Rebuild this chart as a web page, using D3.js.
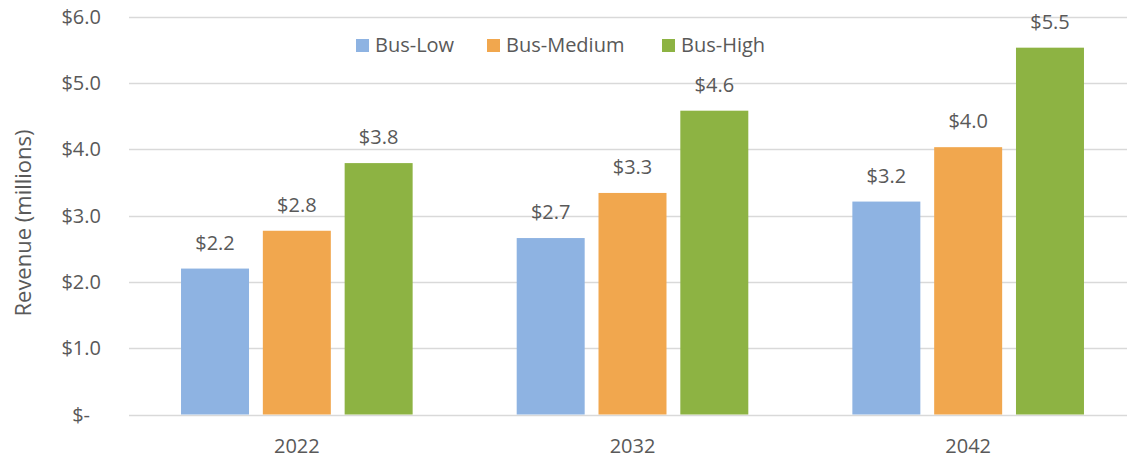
<!DOCTYPE html>
<html>
<head>
<meta charset="utf-8">
<script src="https://cdn.jsdelivr.net/npm/d3@7"></script>
<style>
  body { margin: 0; background: #fff; }
  text { font-family: "Open Sans", "Noto Sans", sans-serif; fill: #595959; }
</style>
</head>
<body>
<script>
var years = ['2022', '2032', '2042'];
var series = ['Bus-Low', 'Bus-Medium', 'Bus-High'];
var busLow = [2.20, 2.66, 3.21];
var busMedium = [2.77, 3.34, 4.03];
var busHigh = [3.79, 4.58, 5.53];
var yTicks = [0, 1, 2, 3, 4, 5, 6];

var colours = ['#8eb3e2', '#f1a74e', '#8db343'];
var values = [busLow, busMedium, busHigh];

var W = 1127, H = 459;
var FS = 20;
var svg = d3.select('body').append('svg')
  .attr('width', W).attr('height', H);

var y = d3.scaleLinear().domain([0, 6]).range([414.5, 16.5]);
var x0 = d3.scaleBand().domain(years).range([129, 1136])
  .paddingInner(0.31).paddingOuter(0.155);
var x1 = d3.scaleBand().domain(series).range([0, x0.bandwidth()])
  .paddingInner(0.169);

// gridlines
svg.append('g').selectAll('line').data(yTicks).enter().append('line')
  .attr('x1', 129).attr('x2', 1136)
  .attr('y1', function(d) { return Math.round(y(d)) + 0.5; })
  .attr('y2', function(d) { return Math.round(y(d)) + 0.5; })
  .style('stroke', '#d9d9d9').style('stroke-width', 1.4);

// y tick labels
svg.append('g').selectAll('text').data(yTicks).enter().append('text')
  .attr('x', function(d) { return d === 0 ? 90 : 101; })
  .attr('y', function(d) { return y(d) + 7; })
  .attr('text-anchor', 'end')
  .style('font-size', FS + 'px')
  .text(function(d) { return d === 0 ? '$-' : '$' + d.toFixed(1); });

// y title
svg.append('text')
  .attr('transform', 'translate(31,223) rotate(-90)')
  .attr('text-anchor', 'middle')
  .style('font-size', '22px')
  .text('Revenue (millions)');

// bars
var groups = svg.append('g').selectAll('g').data(years).enter().append('g')
  .attr('transform', function(d) { return 'translate(' + x0(d) + ',0)'; });

groups.selectAll('rect')
  .data(function(d, i) { return series.map(function(s, j) { return { s: s, v: values[j][i], c: colours[j] }; }); })
  .enter().append('rect')
  .attr('x', function(d) { return x1(d.s); })
  .attr('y', function(d) { return y(d.v); })
  .attr('width', x1.bandwidth())
  .attr('height', function(d) { return y(0) - y(d.v); })
  .style('fill', function(d) { return d.c; });

groups.selectAll('text')
  .data(function(d, i) { return series.map(function(s, j) { return { s: s, v: values[j][i] }; }); })
  .enter().append('text')
  .attr('x', function(d) { return x1(d.s) + x1.bandwidth() / 2; })
  .attr('y', function(d) { return y(d.v) - 19; })
  .attr('text-anchor', 'middle')
  .style('font-size', FS + 'px')
  .text(function(d) { return '$' + d.v.toFixed(1); });

// x labels
svg.append('g').selectAll('text').data(years).enter().append('text')
  .attr('x', function(d) { return x0(d) + x0.bandwidth() / 2; })
  .attr('y', 453)
  .attr('text-anchor', 'middle')
  .style('font-size', FS + 'px')
  .text(function(d) { return d; });

// legend
var legendX = [356, 487, 662];
var legend = svg.append('g').selectAll('g').data(series).enter().append('g')
  .attr('transform', function(d, i) { return 'translate(' + legendX[i] + ',39)'; });
legend.append('rect')
  .attr('width', 13).attr('height', 13)
  .style('fill', function(d, i) { return colours[i]; });
legend.append('text')
  .attr('x', 19).attr('y', 13)
  .style('font-size', FS + 'px')
  .text(function(d) { return d; });
</script>
</body>
</html>
